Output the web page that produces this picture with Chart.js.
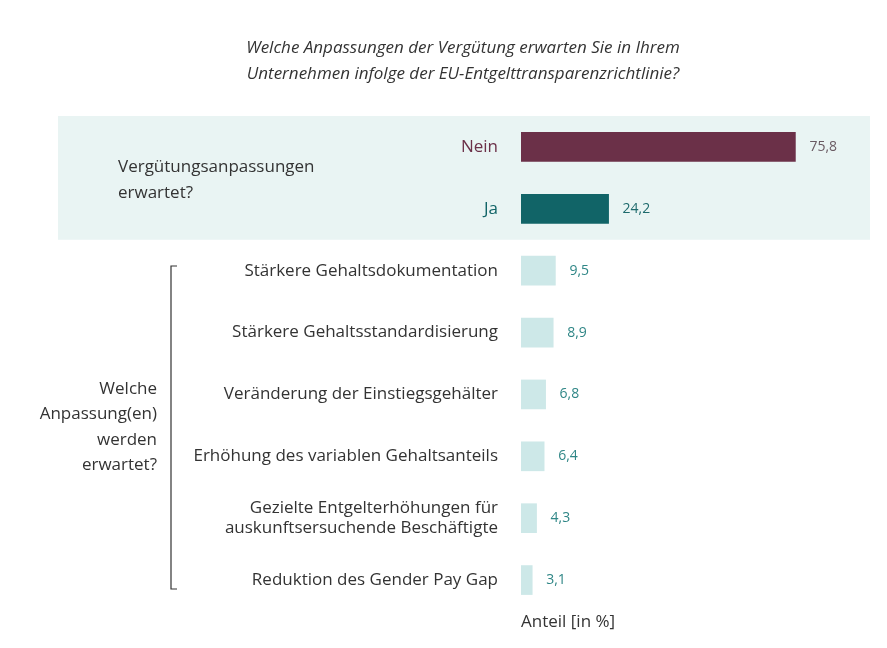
<!DOCTYPE html>
<html>
<head>
<meta charset="utf-8">
<script src="https://cdn.jsdelivr.net/npm/chart.js@4/dist/chart.umd.min.js"></script>
<style>
  body { margin: 0; background: #fff; }
  #wrap { width: 887px; height: 648px; }
</style>
</head>
<body>
<div id="wrap"><canvas id="bars"></canvas></div>
<script>
const labels = [
  'Nein',
  'Ja',
  'Stärkere Gehaltsdokumentation',
  'Stärkere Gehaltsstandardisierung',
  'Veränderung der Einstiegsgehälter',
  'Erhöhung des variablen Gehaltsanteils',
  ['Gezielte Entgelterhöhungen für', 'auskunftsersuchende Beschäftigte'],
  'Reduktion des Gender Pay Gap'
]
const values = [75.8, 24.2, 9.5, 8.9, 6.8, 6.4, 4.3, 3.1]
const barColors = ['#6B3048', '#116467', '#CDE8E8', '#CDE8E8', '#CDE8E8', '#CDE8E8', '#CDE8E8', '#CDE8E8']
const valueColors = ['#6a5a62', '#1e6a6c', '#2f8686', '#2f8686', '#2f8686', '#2f8686', '#2f8686', '#2f8686']
const tickColors = ['#6B3048', '#116467', '#333', '#333', '#333', '#333', '#333', '#333']
const FONT = '"Open Sans", sans-serif'

// band, value labels, side texts and bracket
const extras = {
  id: 'extras',
  beforeDraw(chart) {
    const { ctx, chartArea, scales: { y } } = chart
    const step = y.getPixelForValue(1) - y.getPixelForValue(0)
    ctx.save()
    ctx.fillStyle = '#E9F4F3'
    ctx.fillRect(58, chartArea.top, 812, step * 2)
    ctx.restore()
  },
  afterDraw(chart) {
    const { ctx, scales: { x, y } } = chart
    ctx.save()
    ctx.font = '14px ' + FONT
    ctx.textBaseline = 'middle'
    values.forEach((v, i) => {
      ctx.fillStyle = valueColors[i]
      ctx.fillText(v.toFixed(1).replace('.', ','), x.getPixelForValue(v) + 14, y.getPixelForValue(i))
    })
    ctx.fillStyle = '#333'
    ctx.font = 'italic 17px ' + FONT
    ctx.textAlign = 'center'
    ctx.fillText('Welche Anpassungen der Vergütung erwarten Sie in Ihrem', 463, 48)
    ctx.fillText('Unternehmen infolge der EU-Entgelttransparenzrichtlinie?', 463, 74)
    ctx.font = '17px ' + FONT
    ctx.textAlign = 'left'
    ctx.fillText('Vergütungsanpassungen', 118, 167)
    ctx.fillText('erwartet?', 118, 193)
    ctx.fillText('Anteil [in %]', 521, 622)
    ctx.textAlign = 'right'
    ctx.fillText('Welche', 157, 389)
    ctx.fillText('Anpassung(en)', 157, 414)
    ctx.fillText('werden', 157, 440)
    ctx.fillText('erwartet?', 157, 465)
    ctx.strokeStyle = '#333'
    ctx.lineWidth = 1.2
    ctx.beginPath()
    ctx.moveTo(177, 266); ctx.lineTo(171, 266); ctx.lineTo(171, 589); ctx.lineTo(177, 589)
    ctx.stroke()
    ctx.restore()
  }
}

new Chart(document.getElementById('bars'), {
  type: 'bar',
  data: {
    labels: labels,
    datasets: [{ data: values, backgroundColor: barColors, barThickness: 29 }]
  },
  options: {
    indexAxis: 'y',
    responsive: true,
    maintainAspectRatio: false,
    animation: false,
    layout: { padding: { top: 116, bottom: 37, right: 4 } },
    plugins: { legend: { display: false }, tooltip: { enabled: false } },
    scales: {
      x: { display: false, min: 0, max: 100 },
      y: {
        grid: { display: false },
        border: { display: false },
        ticks: {
          padding: 15,
          font: { family: FONT, size: 17 },
          color: (c) => tickColors[c.index]
        },
        afterFit(scale) { scale.width = 521 }
      }
    }
  },
  plugins: [extras]
})
</script>
</body>
</html>
